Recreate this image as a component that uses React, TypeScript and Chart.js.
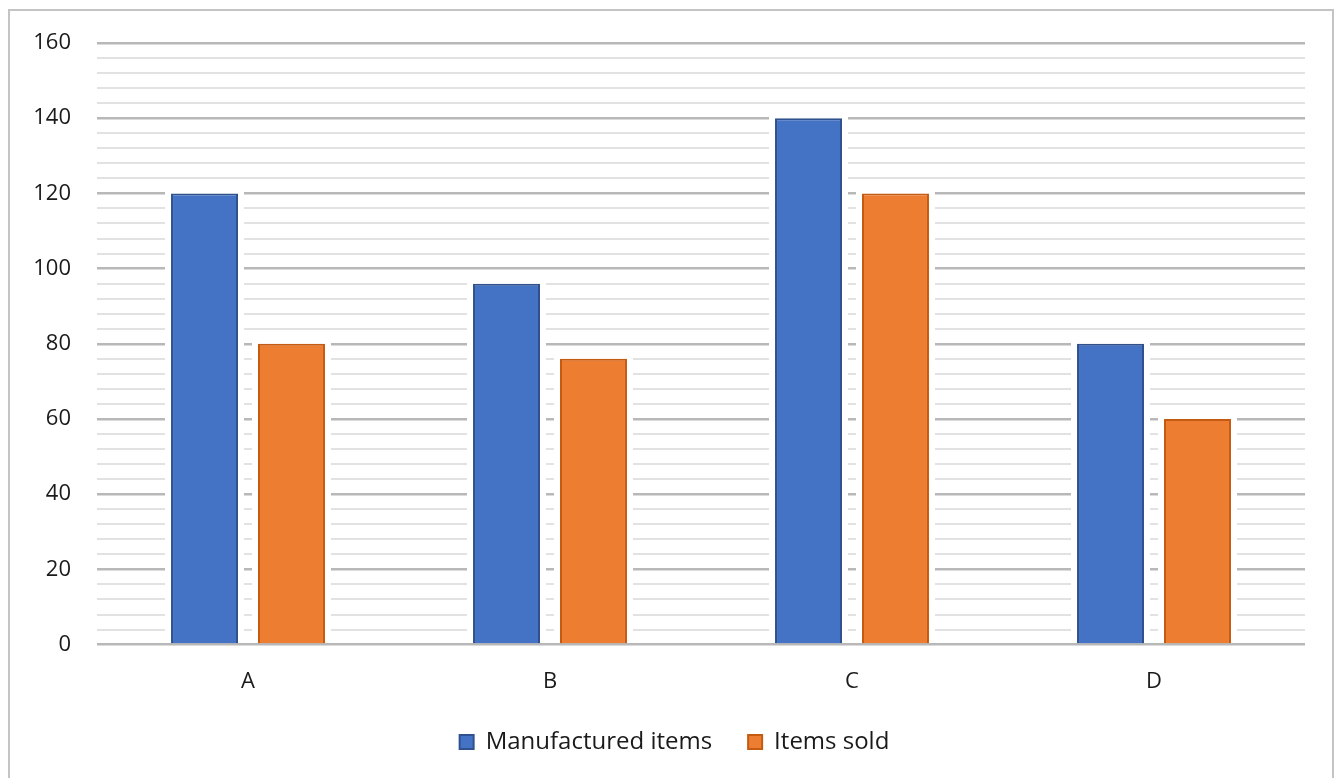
import React, { useEffect, useRef } from "react";
import { Chart, registerables } from "chart.js";

Chart.register(...registerables);

const categories = ["A", "B", "C", "D"];
const manufactured = [120, 96, 140, 80];
const sold = [80, 76, 120, 60];
const seriesNames = ["Manufactured items", "Items sold"];
const yMax = 160;
const yMajorStep = 20;
const yMinorStep = 4;

const FONT = "'Open Sans', 'Liberation Sans', sans-serif";

const haloPlugin = {
  id: "halo",
  beforeDatasetsDraw(chart: any) {
    const ctx = chart.ctx;
    ctx.save();
    ctx.fillStyle = "#ffffff";
    chart.data.datasets.forEach((_: any, i: number) => {
      const meta = chart.getDatasetMeta(i);
      meta.data.forEach((bar: any) => {
        const { x, y, base, width } = bar.getProps(["x", "y", "base", "width"], true);
        ctx.fillRect(x - width / 2 - 6, y - 4, width + 12, base - y + 4 - 1.5);
      });
    });
    ctx.restore();
  },
};

// Shift the legend so it is centred like the original (Excel centres it on the whole chart box)
const legendShiftPlugin = {
  id: "legendShift",
  afterLayout(chart: any) {
    const lg = chart.legend;
    if (lg) {
      lg.left += 22;
      lg.right += 22;
    }
  },
};

export default function App() {
  const ref = useRef<HTMLCanvasElement>(null);
  useEffect(() => {
    if (!ref.current) return;
    const chart = new Chart(ref.current, {
      type: "bar",
      data: {
        labels: categories,
        datasets: [
          {
            label: seriesNames[0],
            data: manufactured,
            backgroundColor: "#4472C4",
            borderColor: "#2F528F",
            borderWidth: 2,
          },
          {
            label: seriesNames[1],
            data: sold,
            backgroundColor: "#ED7D31",
            borderColor: "#C55A11",
            borderWidth: 2,
          },
        ],
      },
      plugins: [haloPlugin, legendShiftPlugin],
      options: {
        animation: false,
        responsive: true,
        maintainAspectRatio: false,
        layout: { padding: { top: 43, right: 33, bottom: 14, left: 0 } },
        datasets: {
          bar: { categoryPercentage: 0.576, barPercentage: 0.77 },
        },
        plugins: {
          tooltip: { enabled: false },
          legend: {
            position: "bottom",
            labels: {
              boxWidth: 14,
              boxHeight: 14,
              padding: 36,
              color: "#1a1a1a",
              font: { family: FONT, size: 24 },
            },
          },
        },
        scales: {
          x: {
            grid: { display: false },
            border: { display: false },
            afterFit(scale: any) {
              scale.height -= 17;
            },
            ticks: { color: "#1a1a1a", padding: 16, font: { family: FONT, size: 22 } },
          },
          y: {
            min: 0,
            max: yMax,
            afterFit(scale: any) {
              scale.width = 97;
            },
            border: { display: false },
            grid: {
              color: (c: any) => (c.tick && c.tick.value % yMajorStep === 0 ? "#b8b8b8" : "#e2e2e2"),
              lineWidth: (c: any) => (c.tick && c.tick.value % yMajorStep === 0 ? 2.5 : 2),
              drawTicks: false,
            },
            ticks: {
              stepSize: yMinorStep,
              maxTicksLimit: 100,
              autoSkip: false,
              padding: 26,
              color: "#1a1a1a",
              font: { family: FONT, size: 22 },
              callback: (v: any) => (Number(v) % yMajorStep === 0 ? String(v) : ""),
            },
          },
        },
      },
    });
    return () => chart.destroy();
  }, []);

  return (
    <div style={{ position: "absolute", left: 0, top: 0, width: 1338, height: 778, background: "#fff" }}>
      <div
        style={{
          position: "absolute",
          left: 8,
          top: 9,
          width: 1326,
          height: 790,
          border: "2px solid #c4c4c4",
          boxSizing: "border-box",
        }}
      />
      <div style={{ position: "absolute", left: 0, top: 0, width: 1338, height: 778 }}>
        <canvas ref={ref} />
      </div>
    </div>
  );
}
